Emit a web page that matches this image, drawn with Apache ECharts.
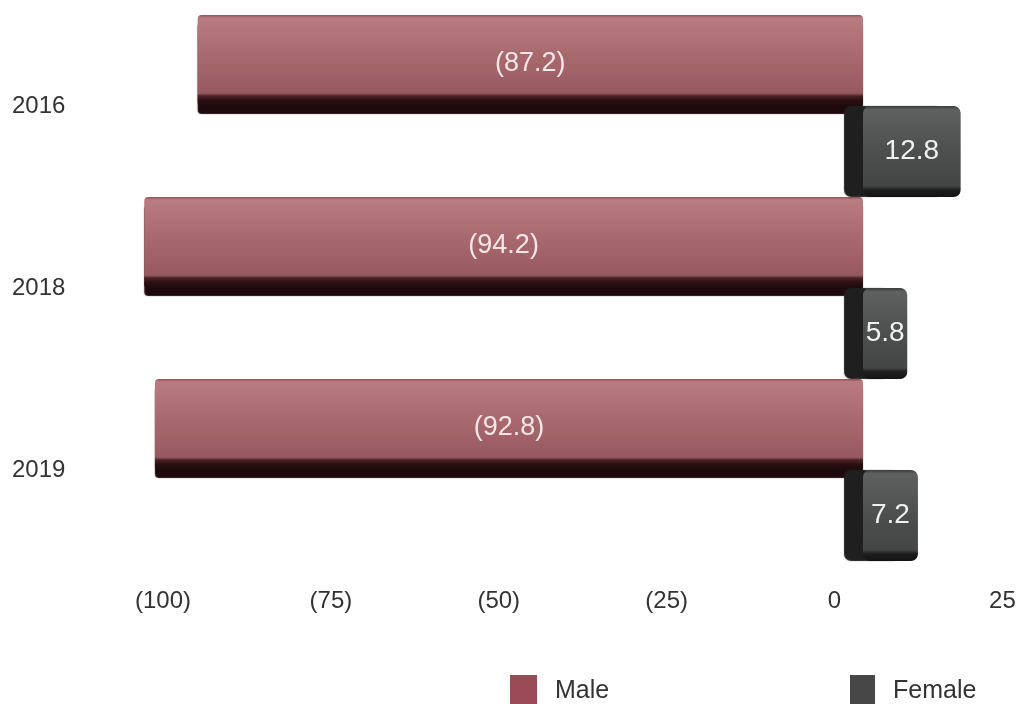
<!DOCTYPE html>
<html>
<head>
<meta charset="utf-8">
<style>
  html, body { margin: 0; padding: 0; background: #ffffff; }
  #chart { width: 1021px; height: 704px; }
</style>
<script src="https://cdn.jsdelivr.net/npm/echarts@6/dist/echarts.min.js"></script>
</head>
<body>
<div id="chart"></div>
<script>
// ---- data ----
const years = ['2016', '2018', '2019'];
const maleValues = [-87.2, -94.2, -92.8];
const femaleValues = [12.8, 5.8, 7.2];
const axisTicks = [-100, -75, -50, -25, 0, 25];
const seriesNames = ['Male', 'Female'];

function fmt(v) {
  return v < 0 ? '(' + Math.abs(v) + ')' : String(v);
}

const chart = echarts.init(document.getElementById('chart'), null, { renderer: 'canvas' });

const font = 'Liberation Sans, Arial, Helvetica, sans-serif';

const maleFill = new echarts.graphic.LinearGradient(0, 0, 0, 1, [
  { offset: 0, color: '#8f5257' },
  { offset: 0.03, color: '#b97c81' },
  { offset: 0.45, color: '#a8696e' },
  { offset: 0.86, color: '#975960' },
  { offset: 0.89, color: '#4a2226' },
  { offset: 0.94, color: '#2a0f12' },
  { offset: 1, color: '#1e0a0c' }
]);

const femaleFill = new echarts.graphic.LinearGradient(0, 0, 0, 1, [
  { offset: 0, color: '#3a3c3c' },
  { offset: 0.04, color: '#5f6161' },
  { offset: 0.5, color: '#4d4f4f' },
  { offset: 0.88, color: '#444646' },
  { offset: 0.92, color: '#1e1e1e' },
  { offset: 1, color: '#141414' }
]);

const noShadow = { shadowBlur: 0, shadowOffsetX: 0, shadowOffsetY: 0, shadowColor: 'rgba(0,0,0,0)' };

const option = {
  backgroundColor: '#ffffff',
  animation: false,
  textStyle: { fontFamily: font },
  legend: [
    {
      data: [{ name: seriesNames[0], itemStyle: Object.assign({ color: '#9b4b55' }, noShadow) }],
      left: 510, top: 675, padding: 0, icon: 'rect', itemWidth: 27, itemHeight: 32,
      selectedMode: false,
      textStyle: { fontSize: 25, color: '#333333', fontFamily: font, padding: [0, 0, 0, 13] }
    },
    {
      data: [{ name: seriesNames[1], itemStyle: Object.assign({ color: '#474747' }, noShadow) }],
      left: 850, top: 675, padding: 0, icon: 'rect', itemWidth: 25, itemHeight: 32,
      selectedMode: false,
      textStyle: { fontSize: 25, color: '#333333', fontFamily: font, padding: [0, 0, 0, 13] }
    }
  ],
  grid: [
    { left: 130.5, right: 5.4, top: 15, height: 546 },
    { left: 163, right: 18.6, top: 15, height: 546 }
  ],
  xAxis: [
    { gridIndex: 0, type: 'value', min: -96, max: 20, show: false },
    {
      gridIndex: 1, type: 'value',
      min: axisTicks[0], max: axisTicks[axisTicks.length - 1], interval: 25,
      axisLine: { show: false }, axisTick: { show: false }, splitLine: { show: false },
      axisLabel: { formatter: fmt, fontSize: 24, color: '#333333', margin: 28, fontFamily: font }
    }
  ],
  yAxis: [
    {
      gridIndex: 0, type: 'category', data: years, inverse: true,
      axisLine: { show: false }, axisTick: { show: false }, splitLine: { show: false },
      axisLabel: { align: 'left', margin: 118.5, fontSize: 24, color: '#333333', fontFamily: font }
    },
    { gridIndex: 1, type: 'value', show: false }
  ],
  series: [
    {
      name: seriesNames[0], type: 'bar', xAxisIndex: 0, yAxisIndex: 0,
      data: maleValues, barWidth: 91, barGap: '0%', barCategoryGap: '0%',
      itemStyle: {
        color: maleFill, borderRadius: 4,
        shadowColor: '#1e0a0c', shadowBlur: 1, shadowOffsetX: 0, shadowOffsetY: 8
      },
      label: {
        show: true, position: 'inside', offset: [0, 3],
        formatter: p => fmt(p.value),
        color: '#f6e6e8', fontSize: 27, fontFamily: font
      }
    },
    {
      name: seriesNames[1], type: 'bar', xAxisIndex: 0, yAxisIndex: 0,
      data: femaleValues, barWidth: 91, barGap: '0%', barCategoryGap: '0%',
      itemStyle: {
        color: femaleFill, borderRadius: 7,
        shadowColor: '#1f1f1f', shadowBlur: 1, shadowOffsetX: -19, shadowOffsetY: 0
      },
      label: {
        show: true, position: 'inside',
        formatter: p => fmt(p.value),
        color: '#f0f0f0', fontSize: 28, fontFamily: font
      }
    }
  ]
};

chart.setOption(option);
</script>
</body>
</html>
